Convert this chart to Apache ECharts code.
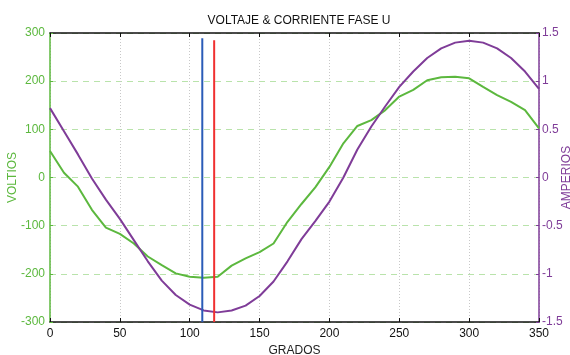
<!DOCTYPE html>
<html>
<head>
<meta charset="utf-8">
<script src="https://cdn.jsdelivr.net/npm/echarts@6/dist/echarts.min.js"></script>
<style>
  html, body { margin: 0; padding: 0; background: #fff; }
  #chart { width: 570px; height: 355px; }
</style>
</head>
<body>
<div id="chart"></div>
<script>
// degrees, sampled every 10
const grados = [0, 10, 20, 30, 40, 50, 60, 70, 80, 90, 100, 110, 120, 130, 140, 150, 160, 170,
  180, 190, 200, 210, 220, 230, 240, 250, 260, 270, 280, 290, 300, 310, 320, 330, 340, 350];

const voltios = [55, 10, -19, -67, -104, -117, -137, -164, -182, -199, -206, -208, -206, -183, -168, -155, -137, -92,
  -55, -20, 22, 71, 107, 119, 140, 168, 182, 202, 208, 209, 206, 188, 171, 157, 140, 102];

const amperios = [0.72, 0.48, 0.24, -0.01, -0.23, -0.43, -0.65, -0.87, -1.07, -1.22, -1.32, -1.38, -1.40, -1.38, -1.33, -1.23, -1.08, -0.87,
  -0.64, -0.45, -0.25, 0.0, 0.29, 0.53, 0.74, 0.94, 1.10, 1.24, 1.34, 1.40, 1.42, 1.40, 1.34, 1.24, 1.10, 0.92];

// cursor lines (degree, top value in volts)
const cursorAzul = { deg: 109, top: 289 };
const cursorRojo = { deg: 117.5, top: 285 };

const GREEN = "#5cb83e";
const PURPLE = "#7f3c98";
const FONT = "Liberation Sans";

const chart = echarts.init(document.getElementById("chart"), null, { renderer: "canvas" });

chart.setOption({
  backgroundColor: "#fff",
  animation: false,
  textStyle: { fontFamily: FONT },
  title: {
    text: "VOLTAJE & CORRIENTE FASE U",
    left: 294,
    top: 10,
    textAlign: "center",
    textStyle: { fontFamily: FONT, fontSize: 12, fontWeight: "normal", color: "#111" },
  },
  grid: { left: 50, right: 31, top: 33, bottom: 33, containLabel: false, outerBoundsMode: "none" },
  xAxis: [
    {
      type: "value",
      min: 0,
      max: 350,
      interval: 50,
      name: "GRADOS",
      nameLocation: "middle",
      nameGap: 22,
      nameTextStyle: { color: "#222", fontSize: 12, fontFamily: FONT },
      axisLine: { onZero: false, lineStyle: { color: "#111", width: 1.5 } },
      axisTick: { inside: true, length: 4, lineStyle: { color: "#111" } },
      axisLabel: { color: "#111", fontSize: 12, margin: 6, fontFamily: FONT },
      splitLine: { show: true, lineStyle: { color: "#c8c8c8", type: [1, 2], width: 1 } },
    },
    {
      type: "value",
      position: "top",
      min: 0,
      max: 350,
      interval: 50,
      axisLine: { show: true, onZero: false, lineStyle: { color: "#111", width: 1.5 } },
      axisTick: { show: true, inside: true, length: 4, lineStyle: { color: "#111" } },
      axisLabel: { show: false },
      splitLine: { show: false },
    },
  ],
  yAxis: [
    {
      type: "value",
      min: -300,
      max: 300,
      interval: 100,
      name: "VOLTIOS",
      nameLocation: "middle",
      nameGap: 31,
      nameRotate: 90,
      nameMoveOverlap: false,
      nameTextStyle: { color: GREEN, fontSize: 12, fontFamily: FONT },
      axisLine: { show: true, onZero: false, lineStyle: { color: GREEN, width: 1.5 } },
      axisTick: { show: true, inside: true, length: 3, lineStyle: { color: GREEN } },
      axisLabel: { color: GREEN, fontSize: 12, margin: 5, fontFamily: FONT },
      splitLine: { show: true, lineStyle: { color: "#b9e3ab", type: [6, 5], width: 1 } },
    },
    {
      type: "value",
      min: -1.5,
      max: 1.5,
      interval: 0.5,
      name: "AMPERIOS",
      nameLocation: "middle",
      nameGap: 22,
      nameRotate: 90,
      nameMoveOverlap: false,
      nameTextStyle: { color: PURPLE, fontSize: 12, fontFamily: FONT },
      axisLine: { show: true, onZero: false, lineStyle: { color: PURPLE, width: 1.5 } },
      axisTick: { show: true, inside: true, length: 3, lineStyle: { color: PURPLE } },
      axisLabel: { color: PURPLE, fontSize: 12, margin: 3, fontFamily: FONT },
      splitLine: { show: false },
    },
  ],
  series: [
    {
      name: "Voltaje",
      type: "line",
      xAxisIndex: 0,
      yAxisIndex: 0,
      data: grados.map((g, i) => [g, voltios[i]]),
      symbol: "none",
      lineStyle: { color: GREEN, width: 2 },
      z: 3,
    },
    {
      name: "Corriente",
      type: "line",
      xAxisIndex: 0,
      yAxisIndex: 1,
      data: grados.map((g, i) => [g, amperios[i]]),
      symbol: "none",
      lineStyle: { color: PURPLE, width: 2 },
      z: 3,
    },
    {
      name: "Cursor azul",
      type: "line",
      yAxisIndex: 0,
      data: [[cursorAzul.deg, -300], [cursorAzul.deg, cursorAzul.top]],
      symbol: "none",
      lineStyle: { color: "#2a5cb8", width: 2 },
      z: 4,
    },
    {
      name: "Cursor rojo",
      type: "line",
      yAxisIndex: 0,
      data: [[cursorRojo.deg, -300], [cursorRojo.deg, cursorRojo.top]],
      symbol: "none",
      lineStyle: { color: "#f03030", width: 2 },
      z: 4,
    },
  ],
});

window.addEventListener("resize", () => chart.resize());
</script>
</body>
</html>
